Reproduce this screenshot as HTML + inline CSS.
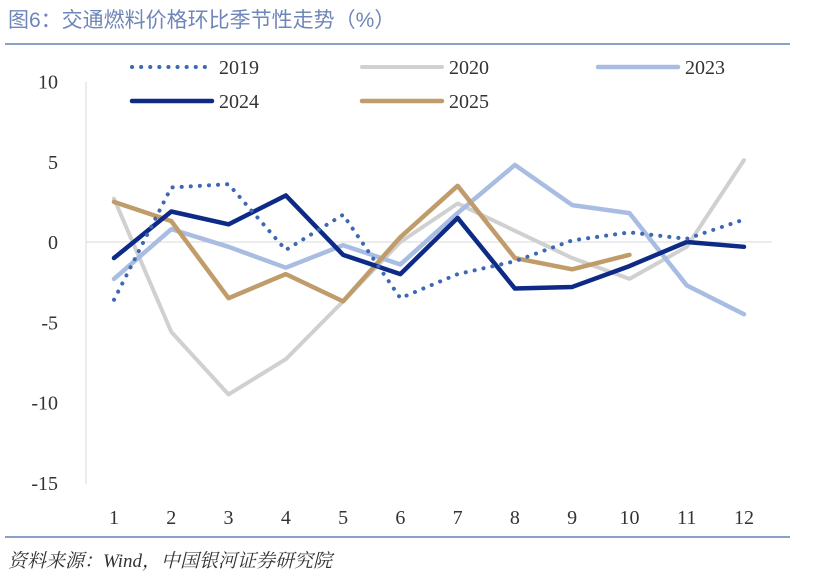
<!DOCTYPE html>
<html><head><meta charset="utf-8"><style>
body{margin:0;background:#fff;width:817px;height:583px;overflow:hidden;font-family:"Liberation Serif","Noto Serif CJK SC",serif;}
.title{position:absolute;left:8px;top:4px;font-size:21px;color:#6f86b8;font-family:"Liberation Sans","Noto Sans CJK SC",sans-serif;}
.src{position:absolute;left:8px;top:546px;font-size:19px;color:#333;font-style:italic;font-family:"Liberation Serif","Noto Serif CJK SC",serif;}
</style></head><body>
<div class="title">图6：交通燃料价格环比季节性走势（%）</div>
<svg width="817" height="583" style="position:absolute;left:0;top:0" id="chart">
<line x1="5" y1="44" x2="790" y2="44" stroke="#8aa0c8" stroke-width="2"/>
<line x1="5" y1="537" x2="790" y2="537" stroke="#8aa0c8" stroke-width="2"/>
<g id="axes"></g><g id="series"></g><g id="legend"></g>
</svg>
<div class="src">资料来源：Wind，中国银河证券研究院</div>
<script>
const categories=[1,2,3,4,5,6,7,8,9,10,11,12];
const yTicks=[10,5,0,-5,-10,-15];
const s2019=[-3.6,3.4,3.6,-0.5,1.7,-3.5,-2,-1.2,0.1,0.6,0.2,1.4];
const s2020=[2.7,-5.6,-9.5,-7.3,-3.7,0,2.4,0.7,-1,-2.3,-0.3,5.1];
const s2023=[-2.3,0.8,-0.3,-1.6,-0.2,-1.4,1.8,4.8,2.3,1.8,-2.7,-4.5];
const s2024=[-1,1.9,1.1,2.9,-0.8,-2,1.5,-2.9,-2.8,-1.5,0,-0.3];
const s2025=[2.5,1.3,-3.5,-2,-3.7,0.3,3.5,-1,-1.7,-0.8];
const NS="http://www.w3.org/2000/svg";
const X=i=>114+i*(630/11);
const Y=v=>242-v*16.05;
function mk(t,a,p){const e=document.createElementNS(NS,t);for(const k in a)e.setAttribute(k,a[k]);p.appendChild(e);return e;}
const ax=document.getElementById('axes');
const vline=mk('line',{x1:86,y1:82,x2:86,y2:484,stroke:'#d9d9d9','stroke-width':1},ax);


const zl=mk('line',{x1:86,y1:Y(0),x2:772,y2:Y(0),stroke:'#d9d9d9','stroke-width':1},ax);


yTicks.forEach(v=>{const t=mk('text',{x:58,y:Y(v)+7,'text-anchor':'end','font-size':20,fill:'#333'},ax);t.textContent=v;

});
categories.forEach((c,i)=>{const t=mk('text',{x:X(i),y:524,'text-anchor':'middle','font-size':20,fill:'#333'},ax);t.textContent=c;

});
const series=[
{n:'2020',d:s2020,c:'#d0d0d0',w:4,dash:null,lx:362,ly:67},
{n:'2023',d:s2023,c:'#a9bde3',w:4.5,dash:null,lx:598,ly:67},
{n:'2025',d:s2025,c:'#bf9c6a',w:4.5,dash:null,lx:362,ly:101},
{n:'2024',d:s2024,c:'#0d2b86',w:4.5,dash:null,lx:132,ly:101},
{n:'2019',d:s2019,c:'#3d68b4',w:4,dash:'0.1 9',lx:132,ly:67}];
const sg=document.getElementById('series'),lg=document.getElementById('legend');
series.forEach(s=>{
const p=mk('polyline',{points:s.d.map((v,i)=>X(i)+','+Y(v)).join(' '),fill:'none',stroke:s.c,'stroke-width':s.w,'stroke-linejoin':'round','stroke-linecap':'round'},sg);
if(s.dash)p.setAttribute('stroke-dasharray',s.dash);


const l=mk('line',{x1:s.lx,y1:s.ly,x2:s.lx+80,y2:s.ly,stroke:s.c,'stroke-width':s.w,'stroke-linecap':'round'},lg);
if(s.dash)l.setAttribute('stroke-dasharray',s.dash);


const t=mk('text',{x:s.lx+87,y:s.ly+7,'font-size':20,fill:'#333','font-family':'Liberation Serif, serif'},lg);t.textContent=s.n;


});
</script>
</body></html>
